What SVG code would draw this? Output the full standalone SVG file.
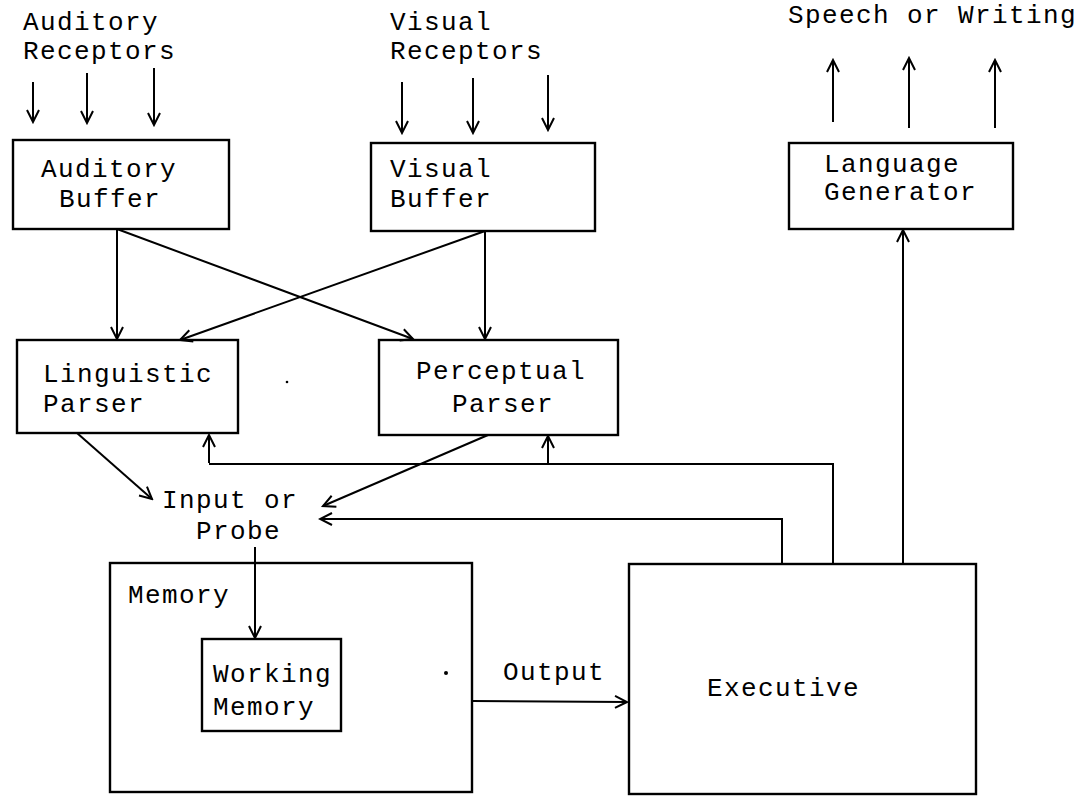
<svg xmlns="http://www.w3.org/2000/svg" width="1086" height="796" viewBox="0 0 1086 796">
<style>
text{font-family:"Liberation Mono","DejaVu Sans Mono",monospace;font-size:26px;letter-spacing:1.4px;fill:#000}
.box{fill:none;stroke:#000;stroke-width:2.4}
.c{fill:none;stroke:#000;stroke-width:2}
.a{fill:none;stroke:#000;stroke-width:2;marker-end:url(#ah)}
</style>
<defs>
<marker id="ah" viewBox="-14 -8 16 16" refX="0" refY="0" markerWidth="16" markerHeight="16" markerUnits="userSpaceOnUse" orient="auto">
<path d="M-12,-6 L0,0 L-12,6" fill="none" stroke="#000" stroke-width="2"/>
</marker>
</defs>
<rect width="1086" height="796" fill="#fff"/>
<g id="labels">
<text x="23" y="30">Auditory</text>
<text x="23" y="59">Receptors</text>
<text x="390" y="30">Visual</text>
<text x="390" y="59">Receptors</text>
<text x="788" y="23">Speech or Writing</text>
<text x="162" y="508">Input or</text>
<text x="196" y="539">Probe</text>
<text x="503" y="680">Output</text>
</g>
<g id="auditory-buffer">
<rect class="box" x="13" y="140" width="216" height="89"/>
<text x="41" y="177">Auditory</text>
<text x="59" y="207">Buffer</text>
</g>
<g id="visual-buffer">
<rect class="box" x="371" y="143" width="224" height="88"/>
<text x="390" y="177">Visual</text>
<text x="390" y="207">Buffer</text>
</g>
<g id="language-generator">
<rect class="box" x="789" y="143" width="224" height="86"/>
<text x="824" y="172">Language</text>
<text x="824" y="200">Generator</text>
</g>
<g id="linguistic-parser">
<rect class="box" x="17" y="340" width="221" height="93"/>
<text x="43" y="382">Linguistic</text>
<text x="43" y="412">Parser</text>
</g>
<g id="perceptual-parser">
<rect class="box" x="379" y="340" width="239" height="95"/>
<text x="416" y="379">Perceptual</text>
<text x="452" y="412">Parser</text>
</g>
<g id="memory">
<rect class="box" x="110" y="563" width="362" height="229"/>
<text x="128" y="603">Memory</text>
</g>
<g id="working-memory">
<rect class="box" x="202" y="639" width="139" height="92"/>
<text x="213" y="682">Working</text>
<text x="213" y="715">Memory</text>
</g>
<g id="executive">
<rect class="box" x="629" y="564" width="347" height="230"/>
<text x="707" y="696">Executive</text>
</g>
<g id="connectors">
<line class="a" x1="33" y1="82" x2="33" y2="122"/>
<line class="a" x1="87" y1="73" x2="87" y2="123"/>
<line class="a" x1="154" y1="68" x2="154" y2="125"/>
<line class="a" x1="402" y1="82" x2="402" y2="133"/>
<line class="a" x1="473" y1="78" x2="473" y2="133"/>
<line class="a" x1="548" y1="75" x2="548" y2="130"/>
<line class="a" x1="833" y1="122" x2="833" y2="60"/>
<line class="a" x1="909" y1="128" x2="909" y2="58"/>
<line class="a" x1="995" y1="128" x2="995" y2="60"/>
<line class="a" x1="117" y1="229" x2="117" y2="339"/>
<line class="a" x1="117" y1="229" x2="413" y2="339"/>
<line class="a" x1="485" y1="231" x2="485" y2="339"/>
<line class="a" x1="485" y1="231" x2="180" y2="340"/>
<line class="a" x1="77" y1="433" x2="152" y2="499"/>
<line class="a" x1="488" y1="435" x2="323" y2="506"/>
<path class="c" d="M833,564 V464 H209"/>
<line class="a" x1="209" y1="463" x2="209" y2="435"/>
<line class="a" x1="548" y1="463" x2="548" y2="436"/>
<path class="a" d="M782,564 V519 H320"/>
<line class="a" x1="255" y1="547" x2="255" y2="638"/>
<line class="a" x1="472" y1="701" x2="627" y2="702"/>
<line class="a" x1="903" y1="564" x2="903" y2="230"/>
</g>
<g id="specks">
<circle cx="287" cy="382" r="1.3" fill="#000"/>
<circle cx="446" cy="673" r="2" fill="#000"/>
</g>
</svg>
